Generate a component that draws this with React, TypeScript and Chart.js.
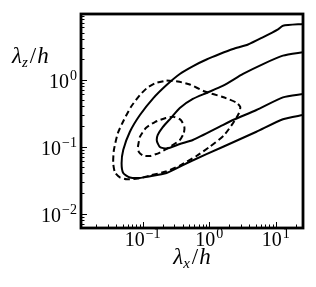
import React, { useEffect, useRef } from "react";
import { Chart, registerables } from "chart.js";

Chart.register(...registerables);

// Axis ranges (λx/h, λz/h)
const xMin = 0.0119;
const xMax = 25.6;
const yMin = 0.00608;
const yMax = 9.5;

// Tick decades
const xMajorTicks = [0.1, 1, 10];
const xMajorLabels = ["−1", "0", "1"];
const yMajorTicks = [0.01, 0.1, 1];
const yMajorLabels = ["−2", "−1", "0"];
const decades = [0.001, 0.01, 0.1, 1, 10];
const minorMultipliers = [2, 3, 4, 5, 6, 7, 8, 9];

// Outer solid contour
const outerSolidX = [25.6, 12.8, 10.8, 6.37, 3.83, 2.28, 1.44, 0.912, 0.574, 0.362, 0.229, 0.144, 0.0912, 0.0645, 0.0512, 0.0484, 0.0512, 0.0645, 0.0912, 0.119, 0.229, 0.512, 1.62, 5.12, 12.8, 25.6];
const outerSolidY = [6.73, 6.35, 5.61, 4.26, 3.33, 2.85, 2.4, 1.99, 1.59, 1.21, 0.828, 0.524, 0.295, 0.166, 0.0887, 0.0561, 0.0402, 0.0345, 0.0339, 0.0354, 0.0402, 0.0593, 0.0993, 0.166, 0.255, 0.295];

// Inner solid contour
const innerSolidX = [25.6, 12.8, 6.43, 3.22, 1.62, 0.912, 0.568, 0.362, 0.266, 0.201, 0.169, 0.164, 0.182, 0.231, 0.362, 0.568, 1.6, 2.42, 5.12, 12.8, 25.6];
const innerSolidY = [2.55, 2.27, 1.7, 1.21, 0.808, 0.629, 0.512, 0.376, 0.266, 0.195, 0.149, 0.121, 0.0983, 0.0933, 0.109, 0.125, 0.209, 0.255, 0.351, 0.542, 0.608];

// Outer dashed contour (closed)
const outerDashedX = [0.229, 0.338, 0.512, 0.859, 1.6, 2.55, 2.93, 2.78, 2.34, 1.66, 1.02, 0.645, 0.362, 0.223, 0.129, 0.0851, 0.0582, 0.0457, 0.0385, 0.0362, 0.0371, 0.0426, 0.0524, 0.0668, 0.0912, 0.119, 0.158, 0.229];
const outerDashedY = [0.966, 0.933, 0.842, 0.662, 0.548, 0.454, 0.389, 0.311, 0.232, 0.146, 0.0993, 0.0722, 0.052, 0.0424, 0.0369, 0.0333, 0.0324, 0.0345, 0.0409, 0.0567, 0.0887, 0.159, 0.249, 0.389, 0.587, 0.76, 0.887, 0.966];

// Inner dashed contour (closed)
const innerDashedX = [0.085, 0.0912, 0.112, 0.153, 0.223, 0.294, 0.375, 0.424, 0.416, 0.362, 0.256, 0.182, 0.129, 0.101, 0.088, 0.085];
const innerDashedY = [0.0983, 0.139, 0.189, 0.232, 0.266, 0.277, 0.249, 0.195, 0.159, 0.125, 0.0983, 0.0813, 0.0722, 0.0734, 0.0828, 0.0983];

const SERIF = '"Liberation Serif", "DejaVu Serif", serif';

const toPoints = (xs: number[], ys: number[]) => xs.map((x, i) => ({ x, y: ys[i] }));

type Piece = { text: string; font: string; dy: number; gap?: number };

const drawPieces = (ctx: CanvasRenderingContext2D, pieces: Piece[], x: number, y: number, align: "left" | "center" | "right") => {
  const widths = pieces.map((p) => {
    ctx.font = p.font;
    return ctx.measureText(p.text).width + (p.gap || 0);
  });
  const total = widths.reduce((a, b) => a + b, 0);
  let cx = align === "left" ? x : align === "center" ? x - total / 2 : x - total;
  ctx.textAlign = "left";
  ctx.textBaseline = "alphabetic";
  pieces.forEach((p, i) => {
    ctx.font = p.font;
    ctx.fillText(p.text, cx + (p.gap || 0), y + p.dy);
    cx += widths[i];
  });
};

const powPieces = (exp: string): Piece[] => [
  { text: "10", font: `20px ${SERIF}`, dy: 0 },
  { text: exp, font: `14px ${SERIF}`, dy: -8, gap: 1 },
];

const labelPieces = (sub: string): Piece[] => [
  { text: "λ", font: `italic 23px ${SERIF}`, dy: 0 },
  { text: sub, font: `italic 15px ${SERIF}`, dy: 4, gap: 0 },
  { text: "/", font: `23px ${SERIF}`, dy: 0, gap: 2 },
  { text: "h", font: `italic 23px ${SERIF}`, dy: 0, gap: 1 },
];

const axesPlugin = {
  id: "axesPlugin",
  afterDraw(chart: any) {
    const ctx: CanvasRenderingContext2D = chart.ctx;
    const { left, right, top, bottom } = chart.chartArea;
    const xs = chart.scales.x;
    const ys = chart.scales.y;
    ctx.save();
    ctx.strokeStyle = "#000";
    ctx.fillStyle = "#000";

    // ticks (inward)
    ctx.lineWidth = 1;
    const drawX = (v: number, len: number) => {
      if (v < xMin || v > xMax) return;
      const px = Math.round(xs.getPixelForValue(v)) + 0.5;
      ctx.beginPath();
      ctx.moveTo(px, bottom);
      ctx.lineTo(px, bottom - len);
      ctx.stroke();
    };
    const drawY = (v: number, len: number) => {
      if (v < yMin || v > yMax) return;
      const py = Math.round(ys.getPixelForValue(v)) + 0.5;
      ctx.beginPath();
      ctx.moveTo(left, py);
      ctx.lineTo(left + len, py);
      ctx.stroke();
    };
    decades.forEach((d) => {
      minorMultipliers.forEach((m) => {
        drawX(d * m, 3.5);
        drawY(d * m, 3.5);
      });
    });
    xMajorTicks.forEach((v) => drawX(v, 6));
    yMajorTicks.forEach((v) => drawY(v, 6));

    // frame
    ctx.lineWidth = 2.8;
    ctx.strokeRect(left, top, right - left, bottom - top);

    // tick labels
    xMajorTicks.forEach((v, i) => {
      const px = xs.getPixelForValue(v);
      drawPieces(ctx, powPieces(xMajorLabels[i]), px, bottom + 18, "center");
    });
    yMajorTicks.forEach((v, i) => {
      const py = ys.getPixelForValue(v);
      drawPieces(ctx, powPieces(yMajorLabels[i]), left - 4, py + 8, "right");
    });

    // axis labels
    drawPieces(ctx, labelPieces("x"), (left + right) / 2, 264, "center");
    drawPieces(ctx, labelPieces("z"), 12, 63, "left");
    ctx.restore();
  },
};

export default function App() {
  const canvasRef = useRef<HTMLCanvasElement | null>(null);

  useEffect(() => {
    if (!canvasRef.current) return;
    const line = (xs: number[], ys: number[], dashed: boolean) => ({
      data: toPoints(xs, ys),
      showLine: true,
      borderColor: "#000",
      backgroundColor: "#000",
      borderWidth: 2,
      borderDash: dashed ? [6, 3.5] : [],
      pointRadius: 0,
      tension: 0.2,
      fill: false,
    });
    const chart = new Chart(canvasRef.current, {
      type: "scatter",
      data: {
        datasets: [
          line(outerSolidX, outerSolidY, false),
          line(innerSolidX, innerSolidY, false),
          line(outerDashedX, outerDashedY, true),
          line(innerDashedX, innerDashedY, true),
        ],
      },
      options: {
        animation: false,
        responsive: false,
        devicePixelRatio: 1,
        layout: { padding: { left: 81, top: 14, right: 13, bottom: 59 } },
        plugins: { legend: { display: false }, tooltip: { enabled: false } },
        scales: {
          x: { type: "logarithmic", min: xMin, max: xMax, display: false },
          y: { type: "logarithmic", min: yMin, max: yMax, display: false },
        },
      },
      plugins: [axesPlugin],
    } as any);
    return () => chart.destroy();
  }, []);

  return (
    <div style={{ position: "fixed", left: 0, top: 0, width: 316, height: 287, background: "#fff" }}>
      <canvas ref={canvasRef} width={316} height={287} style={{ width: 316, height: 287 }} />
    </div>
  );
}
